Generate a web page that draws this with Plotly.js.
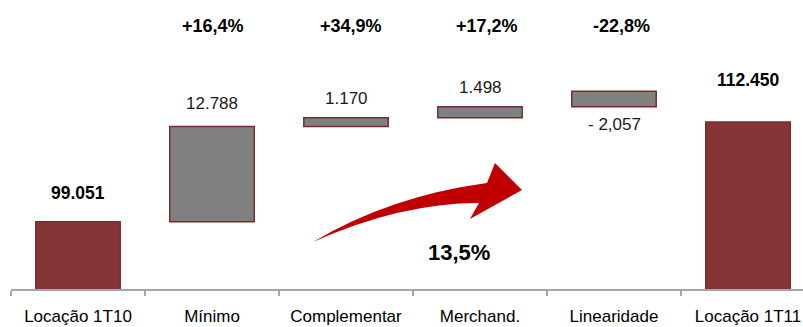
<!DOCTYPE html>
<html>
<head>
<meta charset="utf-8">
<script src="https://cdn.plot.ly/plotly-3.0.1.min.js"></script>
<style>
  html, body { margin: 0; padding: 0; background: #fff; }
  #chart { width: 803px; height: 327px; }
</style>
</head>
<body>
<div id="chart"></div>
<script>
// ---- data ----
const categories = ['Locação 1T10', 'Mínimo', 'Complementar', 'Merchand.', 'Linearidade', 'Locação 1T11'];
const startValue = 99051;
const deltas = [12788, 1170, 1498, -2057];
const endValue = 112450;
const valueLabels = ['99.051', '12.788', '1.170', '1.498', '- 2,057', '112.450'];
const pctLabels = ['+16,4%', '+34,9%', '+17,2%', '-22,8%'];
const growthLabel = '13,5%';

// ---- styling ----
const FONT = 'Liberation Sans, Arial, sans-serif';
const totalColor = '#853535';
const deltaColor = '#808080';
const edgeColor = '#7A2B2B';
const labelShift = [29, 23, 19, 19, -18, 42];  // px offsets of value labels
const pctShift = [1, 5, 7, 7];

// build bar bases/heights from the data (reference draws every step upward from the running level)
const bases = [0];
const heights = [startValue];
let running = startValue;
deltas.forEach(d => {
  bases.push(running);
  heights.push(Math.abs(d));
  running += d;
});
bases.push(0);
heights.push(endValue);

const colors = categories.map((c, i) => (i === 0 || i === categories.length - 1) ? totalColor : deltaColor);

const trace = {
  type: 'bar',
  x: categories,
  y: heights,
  base: bases,
  width: 0.63,
  marker: { color: colors, line: { color: edgeColor, width: 1.5 } },
  hoverinfo: 'skip'
};

const annotations = [];
categories.forEach((c, i) => {
  const isTotal = (i === 0 || i === categories.length - 1);
  const negative = (i > 0 && i < categories.length - 1 && deltas[i - 1] < 0);
  annotations.push({
    x: c, xref: 'x',
    y: negative ? bases[i] : bases[i] + heights[i], yref: 'y',
    yshift: labelShift[i],
    text: isTotal ? '<b>' + valueLabels[i] + '</b>' : valueLabels[i],
    showarrow: false,
    xanchor: 'center', yanchor: 'middle',
    font: { family: FONT, size: isTotal ? 17.5 : 17, color: isTotal ? '#000000' : '#1a1a1a' }
  });
});
pctLabels.forEach((p, i) => {
  annotations.push({
    x: categories[i + 1], xref: 'x',
    y: (289 - 25.5) / 289, yref: 'paper',
    xshift: pctShift[i],
    text: '<b>' + p + '</b>',
    showarrow: false, xanchor: 'center', yanchor: 'middle',
    font: { family: FONT, size: 18, color: '#000000' }
  });
});

// pixel -> paper helper for the decorative arrow
const L = 11, PW = 792, PH = 289;
const P = (x, y) => ((x - L) / PW).toFixed(4) + ',' + ((PH - y) / PH).toFixed(4);
annotations.push({
  x: (459 - L) / PW, xref: 'paper', y: (PH - 252) / PH, yref: 'paper',
  text: '<b>' + growthLabel + '</b>', showarrow: false,
  xanchor: 'center', yanchor: 'middle',
  font: { family: FONT, size: 22, color: '#000000' }
});

const arrowPath = 'M' + P(313, 242) +
  ' Q' + P(390, 196) + ' ' + P(487, 183) +
  ' L' + P(495, 163) +
  ' L' + P(522, 190) +
  ' L' + P(470, 219) +
  ' L' + P(479, 203) +
  ' Q' + P(400, 203) + ' ' + P(313, 242) + ' Z';

const layout = {
  width: 803, height: 327,
  margin: { l: L, r: 0, t: 0, b: 327 - PH },
  paper_bgcolor: '#ffffff', plot_bgcolor: '#ffffff',
  showlegend: false,
  font: { family: FONT, size: 17, color: '#000000' },
  bargap: 0,
  xaxis: {
    type: 'category',
    range: [-0.5, -0.5 + PW / 134],
    showline: true, linecolor: '#A6A6A6', linewidth: 2,
    ticks: 'outside', tickson: 'boundaries', ticklen: 5, tickcolor: '#A6A6A6', tickwidth: 1.5,
    ticklabelstandoff: 11,
    showgrid: false, zeroline: false,
    tickfont: { family: FONT, size: 17, color: '#000000' },
    layer: 'below traces',
    fixedrange: true
  },
  yaxis: {
    range: [90000, 90000 + PH / 7.44 * 1000],
    visible: false, showgrid: false, zeroline: false, fixedrange: true
  },
  shapes: [{
    type: 'path', xref: 'paper', yref: 'paper',
    path: arrowPath,
    fillcolor: '#C00000', line: { width: 0 }
  }],
  annotations: annotations
};

Plotly.newPlot('chart', [trace], layout, { displayModeBar: false, staticPlot: true });
</script>
</body>
</html>
